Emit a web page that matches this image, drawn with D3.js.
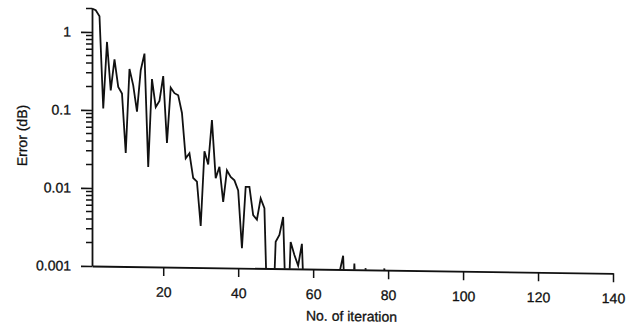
<!DOCTYPE html>
<html>
<head>
<meta charset="utf-8">
<script src="https://cdn.jsdelivr.net/npm/d3@7"></script>
<style>
  body { margin: 0; background: #fff; }
  figure { margin: 0; }
  svg { display: block; font-family: "Liberation Sans", Arial, sans-serif; }
  svg text { fill: #111; stroke: #111; stroke-width: 0.3px; }
</style>
</head>
<body>
<figure id="chart"></figure>
<script>
// iteration number and error (dB)
const iterations = [
  1, 2, 3, 4, 5, 6, 7, 8, 9, 10,
  11, 12, 13, 14, 15, 16, 17, 18, 19, 20,
  21, 22, 23, 24, 25, 26, 27, 28, 29, 30,
  31, 32, 33, 34, 35, 36, 37, 38, 39, 40,
  41, 42, 43, 44, 45, 46, 47, 48, 49, 50,
  51, 52, 53, 54, 55, 56, 57, 58, 59, 60,
  61, 62, 63, 64, 65, 66, 67, 68, 69, 70,
  71, 72, 73, 74, 75, 76, 77, 78, 79, 80
];
const errors = [
  2.0, 1.9, 1.6, 0.105, 0.75, 0.18, 0.45, 0.2, 0.165, 0.0285,
  0.34, 0.21, 0.097, 0.33, 0.54, 0.019, 0.255, 0.112, 0.134, 0.28,
  0.039, 0.2, 0.17, 0.16, 0.095, 0.025, 0.029, 0.014, 0.0126, 0.0034,
  0.031, 0.021, 0.078, 0.014, 0.0197, 0.007, 0.0178, 0.0147, 0.0133, 0.0099,
  0.0018, 0.011, 0.011, 0.0048, 0.0042, 0.0079, 0.0059, 0.0001, 0.0001, 0.0022,
  0.0027, 0.0046, 0.0001, 0.0022, 0.0015, 0.0011, 0.0021, 0.0001, 0.0001, 0.0001,
  0.0001, 0.0001, 0.0001, 0.0001, 0.0001, 0.0001, 0.0009, 0.0015, 0.0001, 0.0001,
  0.0012, 0.0001, 0.0001, 0.00105, 0.0001, 0.0001, 0.0001, 0.0001, 0.00105, 0.0001
];

const xTicks = [20, 40, 60, 80, 100, 120, 140];
const yTicks = [1, 0.1, 0.01, 0.001];
const yTickLabels = ["1", "0.1", "0.01", "0.001"];
const xTitle = "No. of iteration";
const yTitle = "Error (dB)";

const margin = { top: 8.5, right: 24, bottom: 62, left: 92 };
const width = 637 - margin.left - margin.right;
const height = 328 - margin.top - margin.bottom;
const ink = "#111";

const svg = d3.select("#chart")
  .append("svg")
  .attr("width", 637)
  .attr("height", 328);

// the scan is a little skewed, so the whole plot leans the same way
const g = svg.append("g")
  .attr("transform", `translate(${margin.left},${margin.top}) skewY(0.8)`);

const x = d3.scaleLinear().domain([1, 140]).range([0, width]);
const y = d3.scaleLog().domain([0.001, 2]).range([height, 0]);

// minor log ticks (2..9 of every decade)
const minorTicks = y.ticks(10).filter(d => !yTicks.some(t => Math.abs(t - d) < 1e-12));

g.append("g")
  .attr("class", "minor-ticks")
  .selectAll("line")
  .data(minorTicks)
  .join("line")
  .attr("x1", -6)
  .attr("x2", 0)
  .attr("y1", d => y(d))
  .attr("y2", d => y(d))
  .attr("stroke", ink)
  .attr("stroke-width", 1.5);

g.append("g")
  .call(d3.axisLeft(y)
    .tickValues(yTicks)
    .tickFormat((d, i) => yTickLabels[i])
    .tickSize(11)
    .tickSizeOuter(0)
    .tickPadding(10))
  .call(a => a.select(".domain").attr("stroke", ink).attr("stroke-width", 1.8))
  .call(a => a.selectAll("line").attr("stroke", ink).attr("stroke-width", 1.6))
  .call(a => a.selectAll("text")
    .attr("font-size", 14)
    .attr("font-family", "Liberation Sans, Arial, sans-serif"));

g.append("g")
  .attr("transform", `translate(0,${height})`)
  .call(d3.axisBottom(x)
    .tickValues(xTicks)
    .tickSize(9)
    .tickSizeOuter(0)
    .tickPadding(11))
  .call(a => a.select(".domain").attr("stroke", ink).attr("stroke-width", 1.8))
  .call(a => a.selectAll("line").attr("stroke", ink).attr("stroke-width", 1.5))
  .call(a => a.selectAll("text")
    .attr("font-size", 14)
    .attr("font-family", "Liberation Sans, Arial, sans-serif"));

// values below 0.001 vanish under the axis
g.append("clipPath")
  .attr("id", "plot-clip")
  .append("rect")
  .attr("x", 0)
  .attr("y", -10)
  .attr("width", width)
  .attr("height", height + 10);

const line = d3.line()
  .x((d, i) => x(iterations[i]))
  .y(d => y(d));

g.append("path")
  .datum(errors)
  .attr("clip-path", "url(#plot-clip)")
  .attr("fill", "none")
  .attr("stroke", ink)
  .attr("stroke-width", 1.8)
  .attr("stroke-linejoin", "miter")
  .attr("d", line);

g.append("text")
  .attr("x", 259.5)
  .attr("y", 309)
  .attr("text-anchor", "middle")
  .attr("font-size", 14)
  .text(xTitle);

g.append("text")
  .attr("transform", "translate(-65.5,128) rotate(-90)")
  .attr("text-anchor", "middle")
  .attr("font-size", 14)
  .text(yTitle);
</script>
</body>
</html>
